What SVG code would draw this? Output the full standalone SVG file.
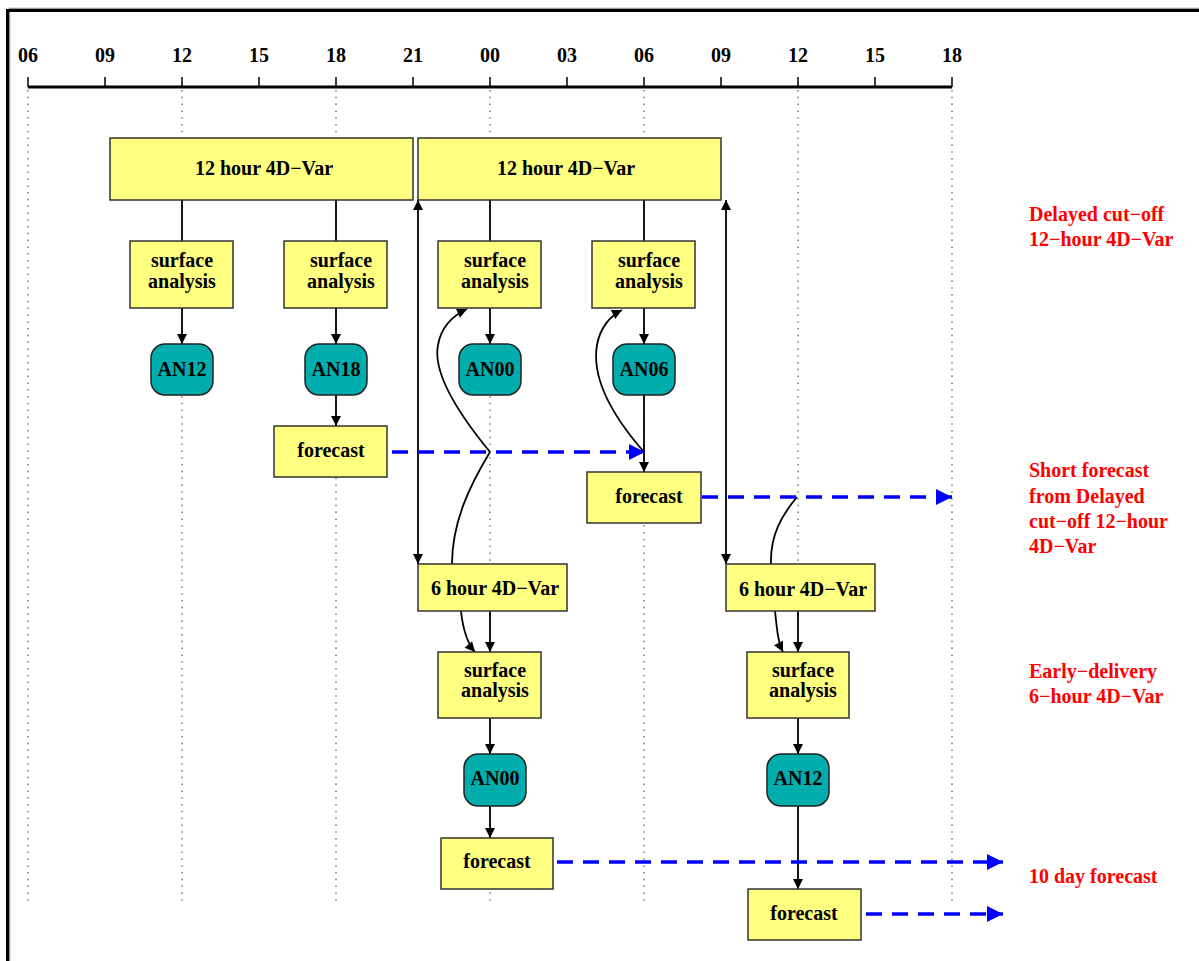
<svg xmlns="http://www.w3.org/2000/svg" width="1199" height="961" viewBox="0 0 1199 961">
<defs>
<style>
text{font-family:"Liberation Serif","Times New Roman",serif;font-weight:bold;font-size:20px;}
.lbl{text-anchor:middle;fill:#000;}
.red{fill:#ff0000;}
.box{fill:#ffff80;stroke:#333;stroke-width:1.5;}
.an{fill:#00adad;stroke:#222;stroke-width:1.5;}
.dot{stroke:#777;stroke-width:1.5;stroke-dasharray:1.5 5.3;fill:none;}
.tick{stroke:#000;stroke-width:1.5;}
.con{stroke:#000;stroke-width:1.8;fill:none;}
.arr{marker-end:url(#ah);}
.dbl{marker-start:url(#ahs);marker-end:url(#ah);}
.blue{stroke:#0000ff;stroke-width:3.5;stroke-dasharray:16 10;fill:none;marker-end:url(#bh);}
</style>
<marker id="ah" markerUnits="userSpaceOnUse" viewBox="0 0 10 10" refX="10" refY="5" markerWidth="11" markerHeight="10" orient="auto">
<path d="M0,0 L10,5 L0,10 Z" fill="#000"/>
</marker>
<marker id="ahs" markerUnits="userSpaceOnUse" viewBox="0 0 10 10" refX="10" refY="5" markerWidth="11" markerHeight="10" orient="auto-start-reverse">
<path d="M0,0 L10,5 L0,10 Z" fill="#000"/>
</marker>
<marker id="bh" markerUnits="userSpaceOnUse" viewBox="0 0 10 10" refX="10" refY="5" markerWidth="17" markerHeight="16" orient="auto">
<path d="M0,0 L10,5 L0,10 Z" fill="#0000ff"/>
</marker>
</defs>
<rect width="1199" height="961" fill="#fff"/>
<g id="frame">
<path d="M9.5,961 V8.5 H1199" stroke="#999" stroke-width="1.5" fill="none"/>
<path d="M7.5,961 V10.5 H1199" stroke="#000" stroke-width="3" fill="none"/>
</g>
<g id="axis">
<line x1="28" y1="87" x2="952" y2="87" stroke="#000" stroke-width="3"/>
<g class="tick">
<line x1="28" y1="77" x2="28" y2="87"/><line x1="105" y1="77" x2="105" y2="87"/><line x1="182" y1="77" x2="182" y2="87"/><line x1="259" y1="77" x2="259" y2="87"/><line x1="336" y1="77" x2="336" y2="87"/><line x1="413" y1="77" x2="413" y2="87"/><line x1="490" y1="77" x2="490" y2="87"/><line x1="567" y1="77" x2="567" y2="87"/><line x1="644" y1="77" x2="644" y2="87"/><line x1="721" y1="77" x2="721" y2="87"/><line x1="798" y1="77" x2="798" y2="87"/><line x1="875" y1="77" x2="875" y2="87"/><line x1="952" y1="77" x2="952" y2="87"/>
</g>
<g class="lbl">
<text x="28" y="62" class="lbl">06</text><text x="105" y="62" class="lbl">09</text><text x="182" y="62" class="lbl">12</text><text x="259" y="62" class="lbl">15</text><text x="336" y="62" class="lbl">18</text><text x="413" y="62" class="lbl">21</text><text x="490" y="62" class="lbl">00</text><text x="567" y="62" class="lbl">03</text><text x="644" y="62" class="lbl">06</text><text x="721" y="62" class="lbl">09</text><text x="798" y="62" class="lbl">12</text><text x="875" y="62" class="lbl">15</text><text x="952" y="62" class="lbl">18</text>
</g>
<g class="dot">
<line x1="28" y1="90" x2="28" y2="905"/><line x1="182" y1="90" x2="182" y2="905"/><line x1="336" y1="90" x2="336" y2="905"/><line x1="490" y1="90" x2="490" y2="905"/><line x1="644" y1="90" x2="644" y2="905"/><line x1="798" y1="90" x2="798" y2="905"/><line x1="952" y1="90" x2="952" y2="905"/>
</g>
</g>
<g id="connectors">
<line class="con" x1="182" y1="200" x2="182" y2="241"/>
<line class="con" x1="336" y1="200" x2="336" y2="241"/>
<line class="con" x1="490" y1="200" x2="490" y2="241"/>
<line class="con" x1="644" y1="200" x2="644" y2="241"/>
<line class="con arr" x1="182" y1="308" x2="182" y2="344"/>
<line class="con arr" x1="336" y1="308" x2="336" y2="344"/>
<line class="con arr" x1="490" y1="308" x2="490" y2="344"/>
<line class="con arr" x1="644" y1="308" x2="644" y2="344"/>
<line class="con arr" x1="336" y1="395" x2="336" y2="426"/>
<line class="con arr" x1="644" y1="395" x2="644" y2="472"/>
<line class="con dbl" x1="418" y1="200" x2="418" y2="564"/>
<line class="con dbl" x1="726" y1="200" x2="726" y2="564"/>
<line class="con arr" x1="490" y1="611" x2="490" y2="652"/>
<line class="con arr" x1="798" y1="611" x2="798" y2="652"/>
<line class="con arr" x1="490" y1="718" x2="490" y2="754"/>
<line class="con arr" x1="798" y1="718" x2="798" y2="754"/>
<line class="con arr" x1="490" y1="806" x2="490" y2="838"/>
<line class="con arr" x1="798" y1="806" x2="798" y2="889"/>
<path class="con arr" d="M490,452 C462,418 432,375 438,345 C441,328 452,316 467,309"/>
<path class="con" d="M490,452 C470,485 452,522 452,564"/>
<path class="con arr" d="M461,611 C463,630 467,643 475,652"/>
<path class="con arr" d="M644,452 C616,420 591,380 597,345 C600,328 610,316 622,310"/>
<path class="con" d="M797,497 C782,515 770,535 771,564"/>
<path class="con arr" d="M775,611 C777,630 778,642 783,652"/>
<line class="blue" x1="392" y1="452" x2="645" y2="452"/>
<line class="blue" x1="702" y1="497" x2="952" y2="497"/>
<line class="blue" x1="557" y1="862" x2="1003" y2="862"/>
<line class="blue" x1="866" y1="914" x2="1003" y2="914"/>
</g>
<g id="var12a"><rect class="box" x="110" y="138" width="303" height="62"/><text class="lbl" x="264" y="175">12 hour 4D−Var</text></g>
<g id="var12b"><rect class="box" x="418" y="138" width="303" height="62"/><text class="lbl" x="566" y="175">12 hour 4D−Var</text></g>
<g id="sa12"><rect class="box" x="130" y="241" width="103" height="67"/><text class="lbl" x="182" y="267">surface</text><text class="lbl" x="182" y="288">analysis</text></g>
<g id="sa18"><rect class="box" x="284" y="241" width="103" height="67"/><text class="lbl" x="341" y="267">surface</text><text class="lbl" x="341" y="288">analysis</text></g>
<g id="sa00"><rect class="box" x="438" y="241" width="103" height="67"/><text class="lbl" x="495" y="267">surface</text><text class="lbl" x="495" y="288">analysis</text></g>
<g id="sa06"><rect class="box" x="592" y="241" width="103" height="67"/><text class="lbl" x="649" y="267">surface</text><text class="lbl" x="649" y="288">analysis</text></g>
<g id="an12"><rect class="an" x="151" y="344" width="62" height="51" rx="14"/><text class="lbl" x="182" y="376">AN12</text></g>
<g id="an18"><rect class="an" x="305" y="344" width="62" height="51" rx="14"/><text class="lbl" x="336" y="376">AN18</text></g>
<g id="an00"><rect class="an" x="459" y="344" width="62" height="51" rx="14"/><text class="lbl" x="490" y="376">AN00</text></g>
<g id="an06"><rect class="an" x="613" y="344" width="62" height="51" rx="14"/><text class="lbl" x="644" y="376">AN06</text></g>
<g id="fc18"><rect class="box" x="274" y="426" width="113" height="51"/><text class="lbl" x="331" y="457">forecast</text></g>
<g id="fc06"><rect class="box" x="587" y="472" width="114" height="51"/><text class="lbl" x="649" y="503">forecast</text></g>
<g id="var6a"><rect class="box" x="418" y="564" width="149" height="47"/><text class="lbl" x="495" y="595">6 hour 4D−Var</text></g>
<g id="var6b"><rect class="box" x="726" y="564" width="149" height="47"/><text class="lbl" x="803" y="596">6 hour 4D−Var</text></g>
<g id="sa00b"><rect class="box" x="438" y="652" width="103" height="66"/><text class="lbl" x="495" y="677">surface</text><text class="lbl" x="495" y="697">analysis</text></g>
<g id="sa12b"><rect class="box" x="747" y="652" width="102" height="66"/><text class="lbl" x="803" y="677">surface</text><text class="lbl" x="803" y="697">analysis</text></g>
<g id="an00b"><rect class="an" x="464" y="754" width="62" height="52" rx="14"/><text class="lbl" x="495" y="785">AN00</text></g>
<g id="an12b"><rect class="an" x="767" y="754" width="62" height="52" rx="14"/><text class="lbl" x="798" y="785">AN12</text></g>
<g id="fc00"><rect class="box" x="441" y="838" width="112" height="51"/><text class="lbl" x="497" y="868">forecast</text></g>
<g id="fc12"><rect class="box" x="748" y="889" width="113" height="51"/><text class="lbl" x="804" y="920">forecast</text></g>
<g id="notes">
<text class="red" x="1029" y="221">Delayed cut−off</text>
<text class="red" x="1029" y="246">12−hour 4D−Var</text>
<text class="red" x="1029" y="477">Short forecast</text>
<text class="red" x="1029" y="503">from Delayed</text>
<text class="red" x="1029" y="528">cut−off 12−hour</text>
<text class="red" x="1029" y="553">4D−Var</text>
<text class="red" x="1029" y="678">Early−delivery</text>
<text class="red" x="1029" y="703">6−hour 4D−Var</text>
<text class="red" x="1029" y="883">10 day forecast</text>
</g>
</svg>
